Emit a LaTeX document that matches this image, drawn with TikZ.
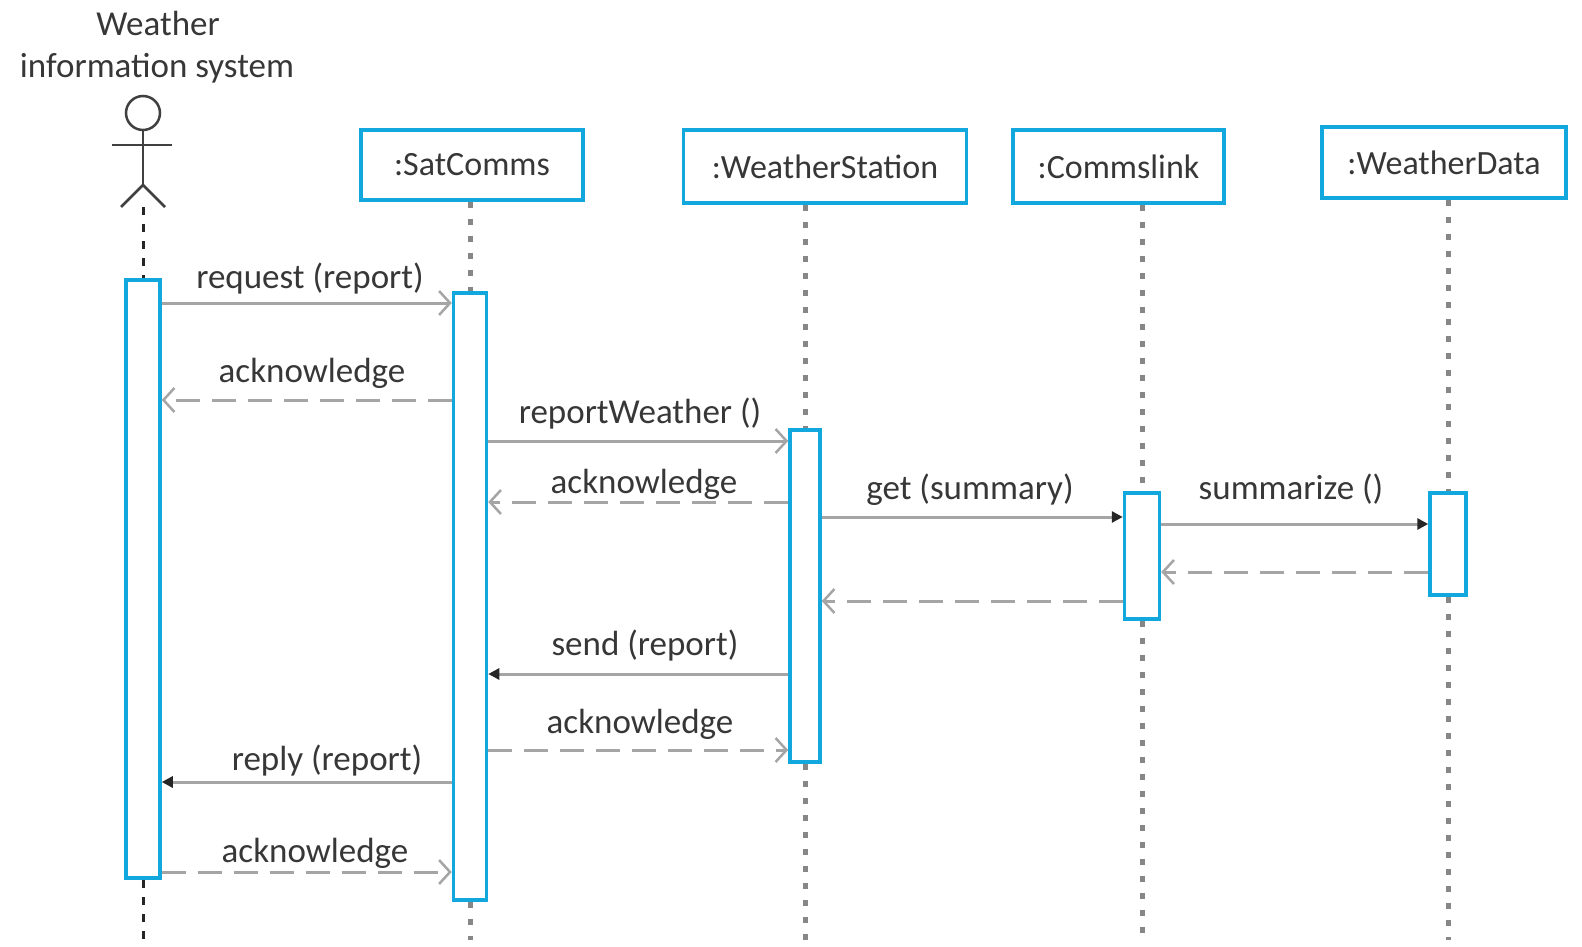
\documentclass[tikz,border=0pt]{standalone}
\usepackage{fontspec}
\setmainfont{Carlito}
\usetikzlibrary{arrows.meta}
\definecolor{boxblue}{RGB}{18,168,222}
\definecolor{msggray}{RGB}{165,165,165}
\definecolor{txtgray}{RGB}{55,55,55}
\definecolor{lifegray}{RGB}{135,135,135}
\begin{document}
\begin{tikzpicture}[x=1pt,y=-1pt,
  objbox/.style={draw=boxblue, line width=3.5pt, fill=white, minimum height=70pt, inner sep=0pt, font=\fontsize{34}{40}\selectfont, text=txtgray},
  act/.style={draw=boxblue, line width=3.5pt, fill=white, inner sep=0pt},
  msg/.style={draw=msggray, line width=3pt, -{Straight Barb[length=11pt,width=24pt,line width=2.5pt]}},
  ret/.style={msg, dash pattern=on 24pt off 12pt},
  sync/.style={draw=msggray, line width=3pt, -{Triangle[length=11pt,width=11pt,color=black!85]}},
  lbl/.style={font=\fontsize{35}{40}\selectfont, text=txtgray, inner sep=0pt, anchor=base},
  life/.style={draw=lifegray, line width=5pt, dash pattern=on 6pt off 11pt},
  actorlife/.style={draw=black!85, line width=3pt, dash pattern=on 8pt off 9pt},
  stick/.style={draw=black!75, line width=2.5pt}
]
\useasboundingbox (0,0) rectangle (1582,947);

% actor
\node[lbl] (wlbl) at (158,36) {Weather};
\node[lbl] (ilbl) at (157,78) {information system};
\node[circle, stick, minimum size=34pt, inner sep=0pt] (head) at (143,113) {};
\coordinate (hip) at (143,185);
\coordinate (armL) at (112,145);
\coordinate (armR) at (172,145);
\coordinate (legL) at (121,207);
\coordinate (legR) at (165,207);
\coordinate (foot) at (143,207);
\draw[stick] (head.south) -- (hip);
\draw[stick] (armL) -- (armR);
\draw[stick] (legL) -- (hip) -- (legR);

% objects
\node[objbox, minimum width=222pt] (sat) at (472,165) {:SatComms};
\node[objbox, minimum width=283pt, minimum height=73pt] (ws) at (825,166.5) {:WeatherStation};
\node[objbox, minimum width=211pt, minimum height=73pt] (cl) at (1118.5,166.5) {:Commslink};
\node[objbox, minimum width=244pt, minimum height=71pt] (wd) at (1444,162.5) {:WeatherData};

% lifeline ends
\coordinate (e0) at (143,940);
\coordinate (e1) at (470,940);
\coordinate (e2) at (805,940);
\coordinate (e3) at (1142,940);
\coordinate (e4) at (1447,940);

% activations
\node[act, minimum width=34pt, minimum height=598pt] (a0) at (143,579) {};
\node[act, minimum width=33pt, minimum height=607pt] (a1) at (470,596.5) {};
\node[act, minimum width=30pt, minimum height=332pt] (a2) at (805,596) {};
\node[act, minimum width=35pt, minimum height=126pt] (a3) at (1142,556) {};
\node[act, minimum width=36pt, minimum height=102pt] (a4) at (1448,544) {};

% lifelines
\draw[actorlife] (foot) -- (a0.north);
\draw[actorlife] (a0.south) -- (e0);
\draw[life] (a1.north |- sat.south) -- (a1.north);
\draw[life] (a1.south) -- (e1);
\draw[life] (a2.north |- ws.south) -- (a2.north);
\draw[life] (a2.south) -- (e2);
\draw[life] (a3.north |- cl.south) -- (a3.north);
\draw[life] (a3.south) -- (e3);
\draw[life] (a4.north |- wd.south) -- (a4.north);
\draw[life] (a4.south) -- (a4.south |- e4);

% messages
\draw[msg] (a0.east |- 0,303) -- (a1.west |- 0,303);
\node[lbl] (l1) at (310,288) {request (report)};

\draw[ret] (a1.west |- 0,400) -- (a0.east |- 0,400);
\node[lbl] (l2) at (312,382) {acknowledge};

\draw[msg] (a1.east |- 0,441) -- (a2.west |- 0,441);
\node[lbl] (l3) at (640,423) {reportWeather ()};

\draw[ret] (a2.west |- 0,502) -- (a1.east |- 0,502);
\node[lbl] (l4) at (644,493) {acknowledge};

\draw[sync] (a2.east |- 0,517) -- (a3.west |- 0,517);
\node[lbl] (l5) at (970,499) {get (summary)};

\draw[sync] (a3.east |- 0,524) -- (a4.west |- 0,524);
\node[lbl] (l6) at (1291,499) {summarize ()};

\draw[ret] (a4.west |- 0,572) -- (a3.east |- 0,572);
\draw[ret] (a3.west |- 0,601) -- (a2.east |- 0,601);

\draw[sync] (a2.west |- 0,674) -- (a1.east |- 0,674);
\node[lbl] (l9) at (645,655) {send (report)};

\draw[ret] (a1.east |- 0,750) -- (a2.west |- 0,750);
\node[lbl] (l10) at (640,733) {acknowledge};

\draw[sync] (a1.west |- 0,782) -- (a0.east |- 0,782);
\node[lbl] (l11) at (327,770) {reply (report)};

\draw[ret] (a0.east |- 0,872) -- (a1.west |- 0,872);
\node[lbl] (l12) at (315,862) {acknowledge};
\end{tikzpicture}
\end{document}
